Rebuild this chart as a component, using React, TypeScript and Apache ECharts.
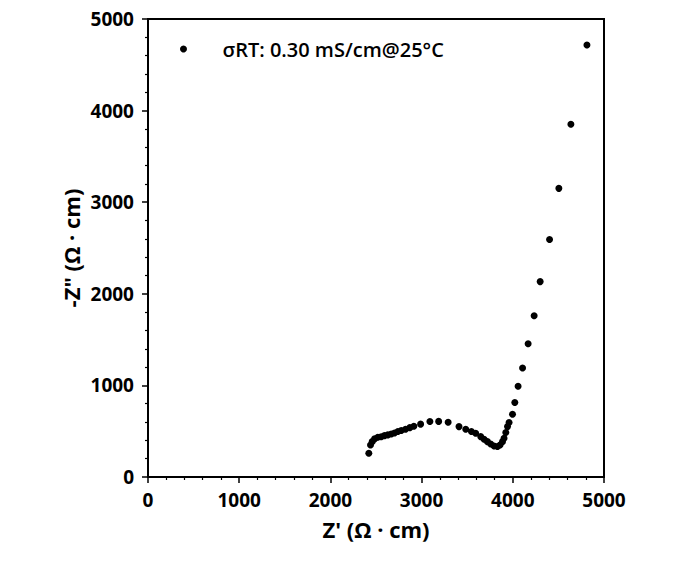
import React, { useEffect, useRef } from "react";
import * as echarts from "echarts";

const zReal: number[] = [
  2421, 2440, 2458, 2484, 2520, 2557, 2593, 2630, 2667, 2703, 2740, 2777, 2824, 2871, 2915,
  2989, 3091, 3187, 3291, 3410, 3484, 3546, 3593, 3648, 3685, 3722, 3758, 3795, 3832, 3860,
  3887, 3904, 3923, 3942, 3959, 3997, 4022, 4058, 4107, 4168, 4234, 4300, 4403, 4505, 4637, 4813,
];
const zImagNeg: number[] = [
  259, 350, 386, 416, 434, 440, 452, 460, 470, 481, 496, 507, 522, 539, 555,
  577, 605, 607, 598, 550, 522, 496, 478, 441, 412, 386, 361, 339, 332, 350,
  386, 423, 485, 550, 594, 686, 813, 990, 1189, 1455, 1761, 2133, 2593, 3151, 3851, 4716,
];
const seriesName = "σRT: 0.30 mS/cm@25°C";
const xTitle = "Z' (Ω · cm)";
const yTitle = "-Z\" (Ω · cm)";

const FONT = "'Open Sans', 'Noto Sans', sans-serif";

export default function App() {
  const ref = useRef<HTMLDivElement>(null);
  useEffect(() => {
    if (!ref.current) return;
    const chart = echarts.init(ref.current, null, { renderer: "svg" });
    const data = zReal.map((x, i) => [x, zImagNeg[i]]);
    const axisCommon = {
      axisLine: { show: true, onZero: false, lineStyle: { color: "#000", width: 2 } },
      axisTick: { show: true, inside: false, length: 6, lineStyle: { color: "#000", width: 1.5 } },
      minorTick: { show: true, splitNumber: 5, length: 3, lineStyle: { color: "#000", width: 1.2 } },
      splitLine: { show: false },
      nameTextStyle: { color: "#000", fontFamily: FONT, fontWeight: 700, fontSize: 22 },
      nameMoveOverlap: false,
    };
    const labelStyle = {
      color: "#000",
      fontFamily: FONT,
      fontWeight: 700,
      fontSize: 19,
      formatter: (v: number) => String(v),
    };
    chart.setOption({
      animation: false,
      backgroundColor: "#fff",
      grid: {
        left: 148,
        right: 79,
        top: 19,
        bottom: 92,
        show: true,
        borderColor: "#000",
        borderWidth: 2,
        backgroundColor: "transparent",
      },
      legend: {
        show: true,
        left: 175,
        top: 34,
        itemWidth: 40,
        itemHeight: 7,
        textStyle: { color: "#000", fontFamily: FONT, fontWeight: 600, fontSize: 20, padding: [0, 0, 0, 14] },
        data: [seriesName],
      },
      xAxis: {
        type: "value",
        min: 0,
        max: 5000,
        interval: 1000,
        name: xTitle,
        nameLocation: "middle",
        nameGap: 41,
        axisLabel: { ...labelStyle, margin: 13 },
        ...axisCommon,
      },
      yAxis: {
        type: "value",
        min: 0,
        max: 5000,
        interval: 1000,
        name: yTitle,
        nameLocation: "middle",
        nameGap: 66,
        axisLabel: { ...labelStyle, margin: 14 },
        ...axisCommon,
      },
      series: [
        {
          name: seriesName,
          type: "scatter",
          data,
          symbol: "circle",
          symbolSize: 7,
          itemStyle: { color: "#000", opacity: 1 },
        },
      ],
    });
    return () => chart.dispose();
  }, []);
  return <div ref={ref} style={{ width: 683, height: 569, position: "absolute", left: 0, top: 0 }} />;
}
